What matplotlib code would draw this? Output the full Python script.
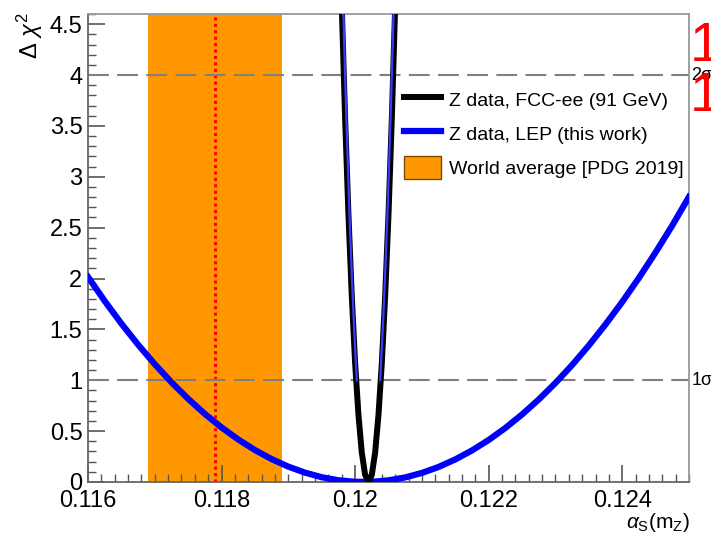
import numpy as np
import matplotlib.pyplot as plt
from matplotlib.lines import Line2D
from matplotlib.patches import Patch

plt.rcParams['font.family'] = ['Liberation Sans', 'DejaVu Sans']
plt.rcParams['mathtext.fontset'] = 'custom'
plt.rcParams['mathtext.rm'] = 'Liberation Sans'
plt.rcParams['mathtext.it'] = 'Liberation Sans:italic'

# world average alpha_s (PDG 2019)
wa_central = 0.1179
wa_err = 0.0010

# Z data, LEP (this work) - wide parabola
lep_x = [0.11600, 0.11625, 0.11650, 0.11675, 0.11700, 0.11725, 0.11750, 0.11775,
         0.11800, 0.11825, 0.11850, 0.11875, 0.11900, 0.11925, 0.11950, 0.11975,
         0.12000, 0.12025, 0.12050, 0.12075, 0.12100, 0.12125, 0.12150, 0.12175,
         0.12200, 0.12225, 0.12250, 0.12275, 0.12300, 0.12325, 0.12350, 0.12375,
         0.12400, 0.12425, 0.12450, 0.12475, 0.12500]
lep_chi2 = [2.016, 1.779, 1.557, 1.350, 1.158, 0.980, 0.817, 0.669,
            0.536, 0.418, 0.314, 0.225, 0.151, 0.092, 0.047, 0.017,
            0.002, 0.002, 0.016, 0.045, 0.089, 0.148, 0.222, 0.310,
            0.413, 0.531, 0.664, 0.811, 0.973, 1.150, 1.342, 1.549,
            1.770, 2.006, 2.257, 2.522, 2.803]

# Z data, FCC-ee (91 GeV) - narrow curve
fcc_x = [0.11978, 0.11980, 0.11985, 0.11990, 0.11995, 0.12000, 0.12005, 0.12010, 0.12015,
         0.12020, 0.12025, 0.12030, 0.12035, 0.12040, 0.12045, 0.12050, 0.12055, 0.12060, 0.12062]
fcc_chi2 = [5.15, 4.68, 3.58, 2.63, 1.83, 1.17, 0.66, 0.29, 0.07,
            0.0, 0.07, 0.29, 0.66, 1.17, 1.83, 2.63, 3.58, 4.68, 5.15]

# second narrow (blue) curve, drawn inside the black one
fcc2_x = [0.119811, 0.119829, 0.119850, 0.119873, 0.119897, 0.119923, 0.119953, 0.119986, 0.120025,
          np.nan,
          0.120375, 0.120414, 0.120447, 0.120477, 0.120503, 0.120527, 0.120550, 0.120571, 0.120589]
fcc2_chi2 = [5.0, 4.5, 4.0, 3.5, 3.0, 2.5, 2.0, 1.5, 1.0,
             np.nan,
             1.0, 1.5, 2.0, 2.5, 3.0, 3.5, 4.0, 4.5, 5.0]

sigma_levels = [1, 4]
sigma_labels = ['1σ', '2σ']

fig = plt.figure(figsize=(7.11, 5.39), dpi=100)
ax = fig.add_axes([88/711, 1-482/539, 601/711, 468/539])

ax.axvspan(wa_central - wa_err, wa_central + wa_err, color='#ff9800', lw=0, zorder=1)
ax.axvline(wa_central, color='red', lw=2.2, ls=(0, (1, 1.1)), zorder=2)

for lvl in sigma_levels:
    ax.axhline(lvl, color='#808080', lw=1.5, dashes=(10, 4), zorder=2)

ax.plot(lep_x, lep_chi2, color='blue', lw=4.5, zorder=4)
ax.plot(fcc_x, fcc_chi2, color='black', lw=4.3, zorder=5)
ax.plot(fcc2_x, fcc2_chi2, color='#3a3aff', lw=1.6, zorder=6)

ax.set_xlim(0.116, 0.125)
ax.set_ylim(0, 4.6)
ax.set_xticks([0.116, 0.118, 0.120, 0.122, 0.124])
ax.set_xticklabels(['0.116', '0.118', '0.12', '0.122', '0.124'])
ax.set_xticks(np.arange(0.116, 0.12501, 0.0002), minor=True)
ax.set_yticks([0, 0.5, 1, 1.5, 2, 2.5, 3, 3.5, 4, 4.5])
ax.set_yticklabels(['0', '0.5', '1', '1.5', '2', '2.5', '3', '3.5', '4', '4.5'])
ax.set_yticks(np.arange(0, 4.61, 0.1), minor=True)
ax.tick_params(which='both', direction='in', color='#555555', labelsize=17, pad=4)
ax.tick_params(which='major', length=12, width=1.2)
ax.tick_params(which='minor', length=6, width=1.0)
ax.tick_params(axis='x', pad=6)
for side in ['left', 'bottom']:
    ax.spines[side].set_color('#666666')
    ax.spines[side].set_linewidth(1.3)
for side in ['top', 'right']:
    ax.spines[side].set_color('#999999')
    ax.spines[side].set_linewidth(1.3)

# axis titles, ROOT style
fig.text(30/711, 1-36/539, r'$\Delta\ \chi^{2}$', rotation=90, ha='center', va='center', fontsize=17)
fig.text(690/711, 1-522/539, r'$\alpha_{\mathrm{S}}(\mathrm{m_{Z}})$', ha='right', va='center', fontsize=15)

# sigma labels right of frame
for lvl, lab in zip(sigma_levels, sigma_labels):
    ax.text(1.004, lvl, lab, transform=ax.get_yaxis_transform(), ha='left', va='center', fontsize=13)

# red marks cut at the edge
fig.text(690/711, 1-47/539, '1', color='red', fontsize=40, ha='left', va='center')
fig.text(690/711, 1-97/539, '1', color='red', fontsize=40, ha='left', va='center')

handles = [Line2D([], [], color='black', lw=4.3),
           Line2D([], [], color='blue', lw=4.5),
           Patch(facecolor='#ff9800', edgecolor='#7a4a00', lw=1.0)]
labels = ['Z data, FCC-ee (91 GeV)', 'Z data, LEP (this work)', 'World average [PDG 2019]']
fig.legend(handles, labels, loc='upper left', bbox_to_anchor=(404/711, 1-88/539),
           frameon=False, fontsize=14, borderpad=0, borderaxespad=0,
           handlelength=1.9, handleheight=1.4, handletextpad=0.41, labelspacing=0.6)

fig.savefig('out.png', dpi=100)
